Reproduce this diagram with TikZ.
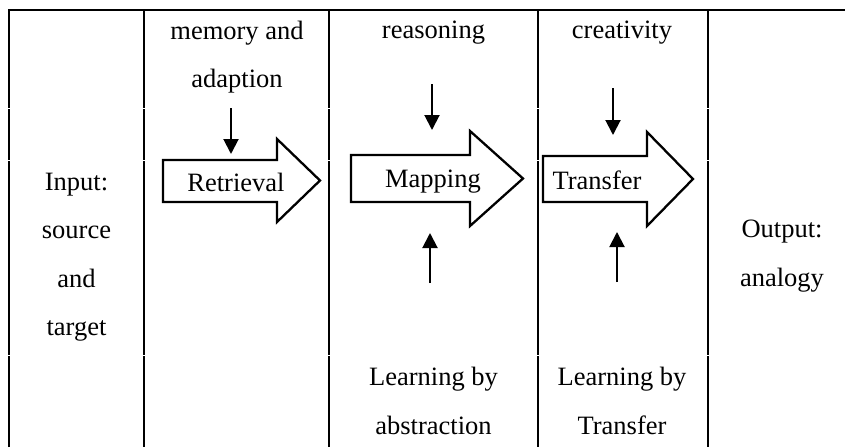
\documentclass[tikz,border=0pt]{standalone}
\usepackage{fontspec}
\setmainfont{Liberation Serif}
\usetikzlibrary{arrows.meta}

\begin{document}
\begin{tikzpicture}[
        x=1pt, y=-1pt,
        >={Triangle[width=15pt,length=15pt]},
        grid/.style={line width=2.5pt},
        blockarr/.style={line width=2.3pt, line join=miter},
        feed/.style={->, line width=2pt},
        every node/.style={font=\fontsize{26.5}{48.5}\selectfont, inner sep=0pt, align=center}
    ]
    \useasboundingbox (0,0) rectangle (845,447);

    % --- Table ---
    \draw[grid] (9,447) -- (9,10) -- (845,10);
    \foreach \x in {144,329,538,708}
        \draw[grid] (\x,10) -- (\x,447);
    % row breaks in the rules
    \foreach \y in {108,160,355}
        \foreach \x in {9,144,329,538,708}
            \draw[white, line width=1pt] (\x-2,\y) -- (\x+2,\y);

    % --- Column texts ---
    \node (input) at (76.5,257) {Input:\\source\\and\\target};
    \node (memory) at (237,57) {memory and\\adaption};
    \node (reason) at (433.5,33) {reasoning};
    \node (creat) at (622,33) {creativity};
    \node (abstr) at (433.5,401) {Learning by\\abstraction};
    \node (learntr) at (622,401) {Learning by\\Transfer};
    \node (output) at (782,256) {Output:\\analogy};

    % --- Block arrows ---
    \draw[blockarr] (163,160) -- (277,160) -- (277,139) -- (320,180.5) -- (277,222) -- (277,202) -- (163,202) -- cycle;
    \draw[blockarr] (351,155) -- (470,155) -- (470,131) -- (523,178.5) -- (470,226) -- (470,202) -- (351,202) -- cycle;
    \draw[blockarr] (543,156) -- (647,156) -- (647,132) -- (693,179) -- (647,226) -- (647,202) -- (543,202) -- cycle;
    \node (retr) at (236,182) {Retrieval};
    \node (mapp) at (433,182) {Mapping};
    \node (trans) at (597,180) {Transfer};

    % --- Influence arrows ---
    \coordinate (retrtop) at (231,108);
    \coordinate (retrin) at (231,154);
    \coordinate (maptop) at (432,84);
    \coordinate (mapin) at (432,130);
    \coordinate (mapbot) at (430,283);
    \coordinate (mapup) at (430,233);
    \coordinate (trtop) at (613,88);
    \coordinate (trin) at (613,135);
    \coordinate (trbot) at (617,282);
    \coordinate (trup) at (617,232);

    \draw[feed] (retrtop) -- (retrin);
    \draw[feed] (maptop) -- (mapin);
    \draw[feed] (mapbot) -- (mapup);
    \draw[feed] (trtop) -- (trin);
    \draw[feed] (trbot) -- (trup);

\end{tikzpicture}
\end{document}
